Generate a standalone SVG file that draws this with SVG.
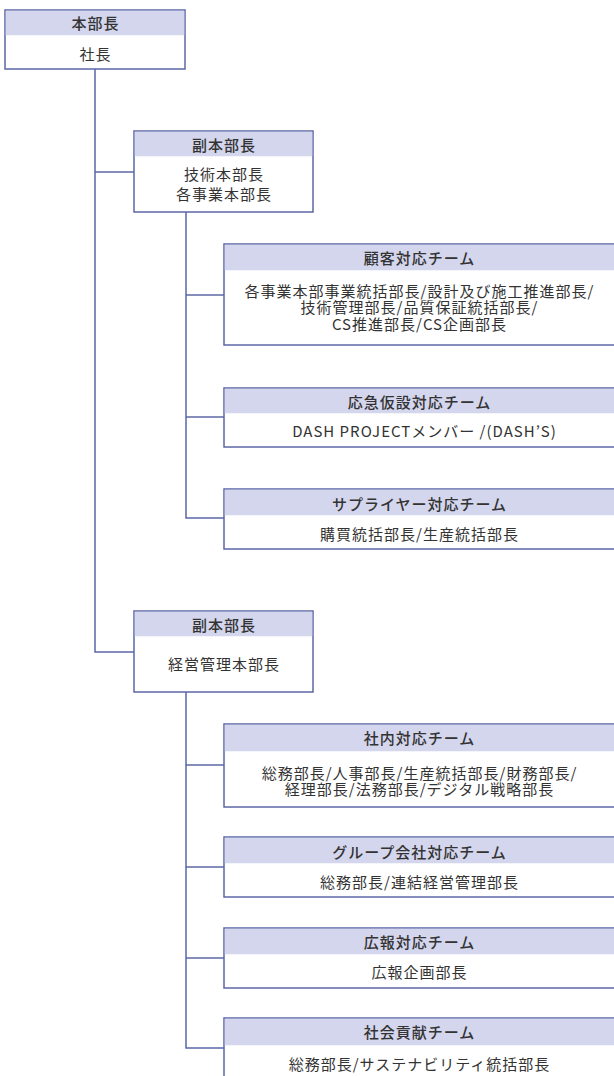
<svg xmlns="http://www.w3.org/2000/svg" width="614" height="1076" viewBox="0 0 614 1076">
<style>
.box{fill:#ffffff;stroke:#5b67a6;stroke-width:1.5}
.hd{fill:#d4d6ed}
.ln{fill:none;stroke:#5b67a6;stroke-width:1.5}
text{font-family:"Noto Sans CJK JP","Noto Sans",sans-serif;fill:#333333;text-anchor:middle;dominant-baseline:central;letter-spacing:1px}
.h{font-size:15px;font-weight:500}
.b{font-size:15px;font-weight:400}
</style>
<rect width="614" height="1076" fill="#ffffff"/>
<g id="connectors">
<path class="ln" d="M95,69 V652 H134"/>
<path class="ln" d="M95,172 H134"/>
<path class="ln" d="M186,212 V518 H224"/>
<path class="ln" d="M186,295 H224"/>
<path class="ln" d="M186,417 H224"/>
<path class="ln" d="M186,692 V1048 H224"/>
<path class="ln" d="M186,765 H224"/>
<path class="ln" d="M186,867 H224"/>
<path class="ln" d="M186,958 H224"/>
</g>
<g id="n1">
<rect class="box" x="5" y="10" width="180" height="59"/>
<rect class="hd" x="5.75" y="10.75" width="178.5" height="24.5"/>
<text class="h" x="95.5" y="22">本部長</text>
<text class="b" x="95.5" y="53">社長</text>
</g>
<g id="n2">
<rect class="box" x="134" y="131" width="179" height="81"/>
<rect class="hd" x="134.75" y="131.75" width="177.5" height="24.5"/>
<text class="h" x="224" y="144">副本部長</text>
<text class="b" x="224" y="173">技術本部長</text>
<text class="b" x="224" y="193.5">各事業本部長</text>
</g>
<g id="n3">
<rect class="box" x="224" y="244" width="400" height="101"/>
<rect class="hd" x="224.75" y="244.75" width="398.5" height="25.5"/>
<text class="h" x="419.5" y="257">顧客対応チーム</text>
<text class="b" x="419.5" y="290">各事業本部事業統括部長/設計及び施工推進部長/</text>
<text class="b" x="419.5" y="306.7">技術管理部長/品質保証統括部長/</text>
<text class="b" x="419.5" y="323.4">CS推進部長/CS企画部長</text>
</g>
<g id="n4">
<rect class="box" x="224" y="388" width="400" height="59"/>
<rect class="hd" x="224.75" y="388.75" width="398.5" height="24.5"/>
<text class="h" x="419.5" y="401.5">応急仮設対応チーム</text>
<text class="b" x="424.5" y="430">DASH PROJECTメンバー /(DASH’S)</text>
</g>
<g id="n5">
<rect class="box" x="224" y="489" width="400" height="60"/>
<rect class="hd" x="224.75" y="489.75" width="398.5" height="25.5"/>
<text class="h" x="419.5" y="503">サプライヤー対応チーム</text>
<text class="b" x="419.5" y="533">購買統括部長/生産統括部長</text>
</g>
<g id="n6">
<rect class="box" x="134" y="611" width="179" height="81"/>
<rect class="hd" x="134.75" y="611.75" width="177.5" height="24.5"/>
<text class="h" x="224" y="624">副本部長</text>
<text class="b" x="224" y="663">経営管理本部長</text>
</g>
<g id="n7">
<rect class="box" x="224" y="724" width="400" height="83"/>
<rect class="hd" x="224.75" y="724.75" width="398.5" height="26.5"/>
<text class="h" x="419.5" y="737.5">社内対応チーム</text>
<text class="b" x="419.5" y="772">総務部長/人事部長/生産統括部長/財務部長/</text>
<text class="b" x="419.5" y="788.5">経理部長/法務部長/デジタル戦略部長</text>
</g>
<g id="n8">
<rect class="box" x="224" y="837" width="400" height="60"/>
<rect class="hd" x="224.75" y="837.75" width="398.5" height="25.5"/>
<text class="h" x="419.5" y="851.5">グループ会社対応チーム</text>
<text class="b" x="419.5" y="881.5">総務部長/連結経営管理部長</text>
</g>
<g id="n9">
<rect class="box" x="224" y="928" width="400" height="60"/>
<rect class="hd" x="224.75" y="928.75" width="398.5" height="25.5"/>
<text class="h" x="419.5" y="941.5">広報対応チーム</text>
<text class="b" x="419.5" y="971.5">広報企画部長</text>
</g>
<g id="n10">
<rect class="box" x="224" y="1018" width="400" height="80"/>
<rect class="hd" x="224.75" y="1018.75" width="398.5" height="26.5"/>
<text class="h" x="419.5" y="1031.5">社会貢献チーム</text>
<text class="b" x="419.5" y="1063">総務部長/サステナビリティ統括部長</text>
</g>
</svg>
